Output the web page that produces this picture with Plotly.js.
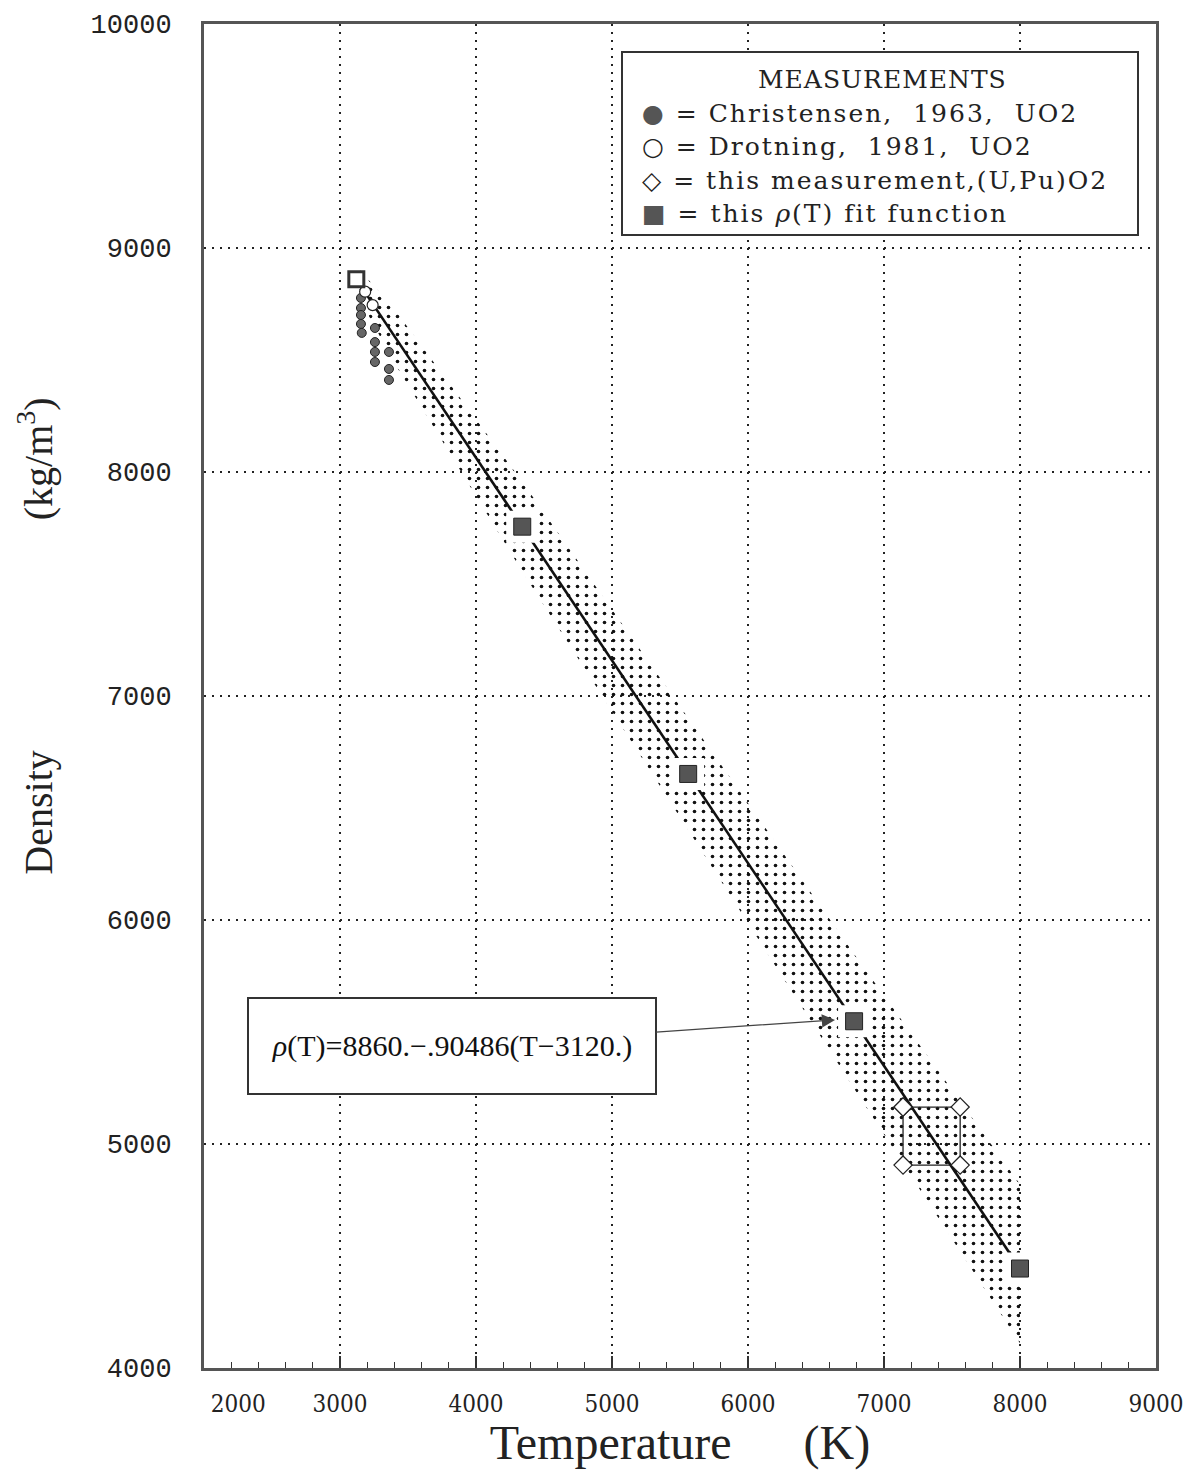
<!DOCTYPE html>
<html>
<head>
<meta charset="utf-8">
<script src="https://cdn.plot.ly/plotly-3.0.1.min.js"></script>
<style>
  html, body { margin: 0; padding: 0; background: #ffffff; }
  #chart { width: 1200px; height: 1470px; }
</style>
</head>
<body>
<div id="chart"></div>
<script>
// ---------------- data ----------------
// fit function rho(T) = 8860 - 0.90486 (T - 3120) evaluated at the plotted squares
const fitT = [3120, 4340, 5560, 6780, 8000];
const fitD = [8860, 7756, 6652, 5548, 4444];

// uncertainty band around the fit (dotted region)
const bandT     = [3120, 3400, 4340, 5560, 6780, 8000];
const bandUpper = [8920, 8727, 7956, 6902, 5848, 4820];
const bandLower = [8800, 8487, 7556, 6402, 5248, 4110];

// Christensen, 1963, UO2 (filled circles)
const chrT = [3154, 3154, 3154, 3154, 3160, 3257, 3257, 3257, 3257, 3360, 3360, 3360];
const chrD = [8777, 8732, 8701, 8661, 8621, 8643, 8580, 8536, 8491, 8536, 8460, 8411];

// Drotning, 1981, UO2 (open circles)
const droT = [3185, 3240];
const droD = [8805, 8745];

// this measurement, (U,Pu)O2 (open diamonds, corners of the box)
const measT = [7140, 7560, 7560, 7140, 7140];
const measD = [5165, 5165, 4906, 4906, 5165];

// axis ticks
const xTickVals = [2000, 3000, 4000, 5000, 6000, 7000, 8000, 9000];
const xTickText = ['\u00a0\u00a0\u00a0\u00a0\u00a0\u00a0\u00a0\u00a0\u00a0\u00a02000', '3000', '4000', '5000', '6000', '7000', '8000', '9000'];
const yTickVals = [4000, 5000, 6000, 7000, 8000, 9000, 10000];
const yTickText = ['4000', '5000', '6000', '7000', '8000', '9000', '10000'];

// legend text
const legendTitle = 'MEASUREMENTS';
const legendLines = [
  '<span style="color:#555">\u25CF</span> = Christensen,  1963,  UO2',
  '\u25CB = Drotning,  1981,  UO2',
  '\u25C7 = this measurement,(U,Pu)O2',
  '<span style="color:#555">\u25A0</span> = this <i>\u03C1</i>(T) fit function'
];
const formulaText = '<i>\u03C1</i>(T)=8860.\u2212.90486(T\u22123120.)';

// ---------------- layout helpers ----------------
const ML = 204, MR = 44, MT = 24, MB = 102, W = 1200, H = 1470;
const PW = W - ML - MR, PH = H - MT - MB;
const px2x = p => (p - ML) / PW;
const py2y = p => (H - MB - p) / PH;

const nb = n => '\u00a0'.repeat(n);

// ---------------- traces ----------------
const band = {
  x: bandT.concat(bandT.slice().reverse()),
  y: bandUpper.concat(bandLower.slice().reverse()),
  mode: 'lines', fill: 'toself',
  fillcolor: 'rgba(0,0,0,0)',
  fillpattern: { shape: '.', size: 9, solidity: 0.13, fgcolor: '#111', bgcolor: 'rgba(0,0,0,0)' },
  line: { width: 0, color: 'rgba(0,0,0,0)' },
  hoverinfo: 'skip', showlegend: false
};

const fitLine = {
  x: fitT, y: fitD, mode: 'lines',
  line: { color: '#111', width: 2.6 },
  showlegend: false, name: 'fit'
};

const chr = {
  x: chrT, y: chrD, mode: 'markers',
  marker: { symbol: 'circle', size: 9, color: '#666', line: { color: '#222', width: 1 } },
  showlegend: false, name: 'Christensen, 1963, UO2'
};

const dro = {
  x: droT, y: droD, mode: 'markers',
  marker: { symbol: 'circle', size: 11, color: '#ffffff', line: { color: '#222', width: 1.2 } },
  showlegend: false, name: 'Drotning, 1981, UO2'
};

const meas = {
  x: measT, y: measD, mode: 'lines+markers',
  line: { color: '#222', width: 1.3 },
  marker: { symbol: 'diamond', size: 14, color: '#ffffff', line: { color: '#222', width: 1.2 } },
  showlegend: false, name: 'this measurement, (U,Pu)O2'
};

const halo = {
  x: fitT.slice(1), y: fitD.slice(1), mode: 'markers',
  marker: { symbol: 'square', size: 32, color: '#ffffff', line: { width: 0 } },
  hoverinfo: 'skip', showlegend: false
};

const fitSq = {
  x: fitT.slice(1), y: fitD.slice(1), mode: 'markers',
  marker: { symbol: 'square', size: 17, color: '#555', line: { color: '#222', width: 1 } },
  showlegend: false, name: 'rho(T) fit function'
};

const fitSq0 = {
  x: fitT.slice(0, 1), y: fitD.slice(0, 1), mode: 'markers',
  marker: { symbol: 'square', size: 15, color: '#ffffff', line: { color: '#333', width: 3 } },
  showlegend: false, name: 'fit start'
};

// ---------------- annotations ----------------
const annotations = [];
annotations.push({
  xref: 'paper', yref: 'paper', x: px2x(882), y: py2y(80),
  text: '<span style="letter-spacing:1px">' + legendTitle + '</span>', showarrow: false, xanchor: 'center', yanchor: 'middle',
  font: { family: 'DejaVu Serif, Liberation Serif, serif', size: 25, color: '#222' }
});
legendLines.forEach((t, i) => {
  annotations.push({
    xref: 'paper', yref: 'paper', x: px2x(640), y: py2y(114 + i * 33),
    text: '<span style="letter-spacing:2px">' + t + '</span>', showarrow: false, xanchor: 'left', yanchor: 'middle',
    font: { family: 'DejaVu Serif, Liberation Serif, serif', size: 25, color: '#222' }
  });
});
annotations.push({
  xref: 'x', yref: 'y', x: 6640, y: 5554,
  text: formulaText, showarrow: true,
  axref: 'pixel', ayref: 'pixel', ax: -383, ay: 26,
  arrowhead: 2, arrowsize: 2.2, arrowwidth: 1.2, arrowcolor: '#444', standoff: 0,
  bordercolor: '#333', borderwidth: 2, bgcolor: '#ffffff',
  width: 404, height: 92, align: 'center', valign: 'middle',
  font: { family: 'Liberation Serif, serif', size: 30, color: '#111' }
});

const gridStyle = { gridcolor: '#222', gridwidth: 1.4, griddash: '2px,6px' };

const layout = {
  width: W, height: H,
  margin: { l: ML, r: MR, t: MT, b: MB, pad: 0 },
  paper_bgcolor: '#ffffff', plot_bgcolor: '#ffffff',
  showlegend: false,
  xaxis: Object.assign({
    range: [2000, 9000], tickmode: 'array', tickvals: xTickVals, ticktext: xTickText,
    showgrid: true, zeroline: false,
    showline: true, linecolor: '#555', linewidth: 3, mirror: true,
    ticks: 'inside', ticklen: 12, tickwidth: 1.2, tickcolor: '#333',
    minor: { tickmode: 'linear', tick0: 2000, dtick: 200, ticks: 'inside', ticklen: 6, tickwidth: 1, tickcolor: '#333', showgrid: false },
    ticklabelstandoff: 12,
    tickfont: { family: 'DejaVu Serif Condensed, Liberation Serif, serif', size: 24, color: '#222' },
    title: { text: 'Temperature' + nb(6) + '(K)', standoff: 14,
             font: { family: 'Liberation Serif, serif', size: 48, color: '#222' } }
  }, gridStyle),
  yaxis: Object.assign({
    range: [4000, 10000], tickmode: 'array', tickvals: yTickVals, ticktext: yTickText,
    showgrid: true, zeroline: false,
    showline: true, linecolor: '#555', linewidth: 3, mirror: true,
    ticks: '', ticklabelstandoff: 24,
    tickfont: { family: 'Liberation Mono, monospace', size: 27, color: '#222' },
    title: { text: '\u200b' + nb(12) + 'Density' + nb(23) + '(kg/m<sup>3</sup>)', standoff: 26,
             font: { family: 'Liberation Serif, serif', size: 40, color: '#222' } }
  }, gridStyle),
  shapes: [{
    type: 'rect', xref: 'paper', yref: 'paper', layer: 'above',
    x0: px2x(622), x1: px2x(1138), y0: py2y(235), y1: py2y(52),
    line: { color: '#333', width: 2 }, fillcolor: '#ffffff'
  }],
  annotations: annotations
};

Plotly.newPlot('chart', [band, fitLine, chr, dro, meas, halo, fitSq, fitSq0], layout,
  { displayModeBar: false, staticPlot: true });
</script>
</body>
</html>
